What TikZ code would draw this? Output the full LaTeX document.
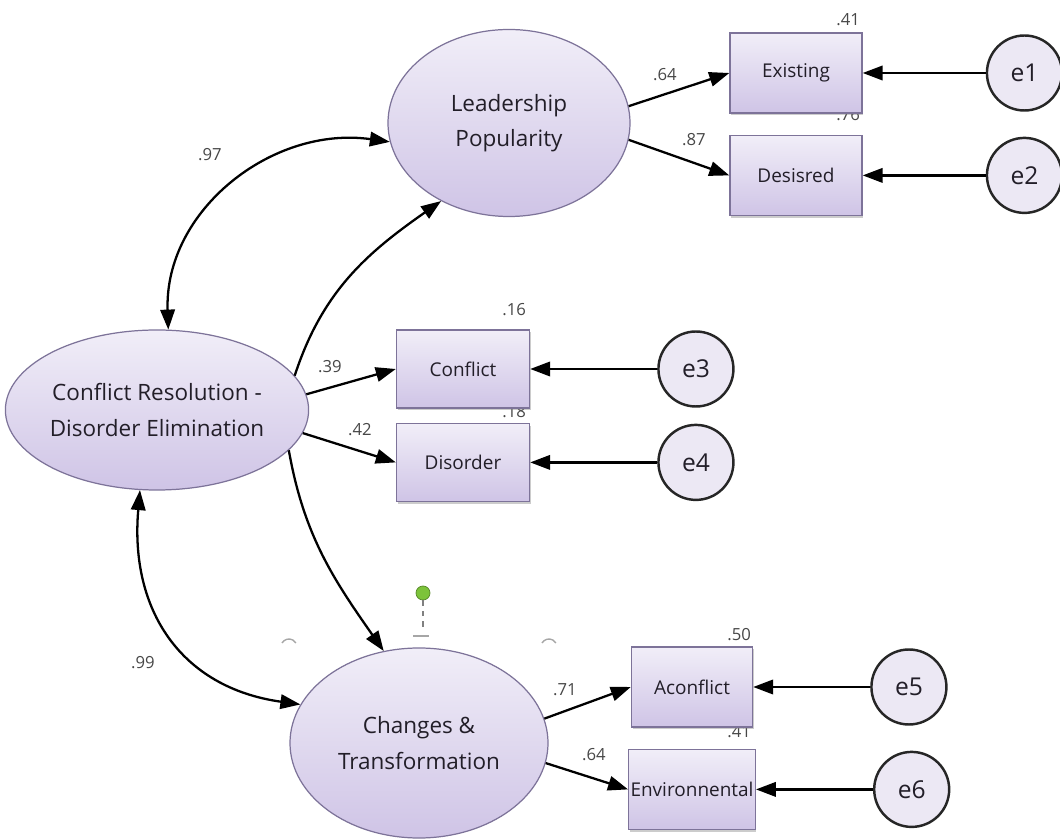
\documentclass[tikz,border=0pt]{standalone}
\usepackage{fontspec}
\setmainfont{Open Sans}
\usepackage{xcolor}
\usetikzlibrary{arrows.meta, positioning, shapes.geometric, shadows}
\definecolor{lavtop}{HTML}{F1EEF8}
\definecolor{lavbot}{HTML}{CFC4E6}
\definecolor{edgecol}{HTML}{7D7399}
\definecolor{txtcol}{HTML}{221E28}
\definecolor{errfill}{HTML}{ECE8F4}
\definecolor{coefcol}{HTML}{474747}
\definecolor{handlecol}{HTML}{7CC33A}

\begin{document}
\begin{tikzpicture}[
    x=0.2mm, y=-0.2mm,
    node distance=4.2mm and 24mm,
    latent/.style={ellipse, draw=edgecol, line width=0.7pt, top color=lavtop, bottom color=lavbot, inner sep=0pt, align=center, text=txtcol, font=\fontsize{12.8}{20}\selectfont},
    obs/.style={rectangle, draw=edgecol, line width=0.8pt, top color=lavtop, bottom color=lavbot, minimum width=26.4mm, minimum height=16mm, inner xsep=1pt, text=txtcol, font=\fontsize{10.8}{12}\selectfont, drop shadow={shadow xshift=0.2mm, shadow yshift=-0.5mm, opacity=0.4}},
    err/.style={circle, draw=black!85, line width=1.4pt, fill=errfill, minimum size=15mm, inner sep=0pt, text=txtcol, font=\fontsize{14}{16}\selectfont},
    coef/.style={text=coefcol, font=\fontsize{9.5}{11}\selectfont, inner sep=1pt},
    arrow/.style={-{Triangle[length=4mm, width=2.9mm]}, line width=1.3pt},
    covar/.style={{Triangle[length=4mm, width=2.9mm]}-{Triangle[length=4mm, width=2.9mm]}, line width=1.3pt}
]
    \useasboundingbox (0,0) rectangle (1060,840);

    % latent factors
    \node[latent, minimum width=48.4mm, minimum height=37.4mm] (lead) at (509,123) {Leadership\\Popularity};
    \node[latent, minimum width=57.4mm, minimum height=32mm] (cr) at (157,410) {Conflict Resolution -\\Disorder Elimination};
    \node[latent, minimum width=51.6mm, minimum height=38mm] (ct) at (419,743) {Changes \&\\Transformation};

    % r-squared labels that sit behind the boxes
    \node[coef, anchor=east] at (862,115) {.76};
    \node[coef, anchor=east] at (528,412) {.18};
    \node[coef, anchor=east] at (753,732) {.41};

    % indicators
    \node[obs] (exist) at (796,73) {Existing};
    \node[obs, below=of exist] (desir) {Desisred};
    \node[obs, minimum width=26.6mm, minimum height=15.6mm] (confl) at (463,369) {Conflict};
    \node[obs, minimum width=26.6mm, minimum height=15.6mm, below=2.8mm of confl] (disord) {Disorder};
    \node[obs, minimum width=24.2mm] (aconf) at (692,687) {Aconflict};
    \node[obs, minimum width=24.2mm, below=of aconf] (envir) {Environnental};

    % error terms
    \node[err, right=24.6mm of exist] (e1) {e1};
    \node[err, right=24.6mm of desir] (e2) {e2};
    \node[err, right=25.4mm of confl] (e3) {e3};
    \node[err, right=25.4mm of disord] (e4) {e4};
    \node[err, right=23.4mm of aconf] (e5) {e5};
    \node[err, right=23.4mm of envir] (e6) {e6};

    \node[coef, anchor=east] at (862,20) {.41};
    \node[coef, anchor=east] at (528,310) {.16};
    \node[coef, anchor=east] at (753,635) {.50};

    \draw[arrow] (lead.8) -- (exist.west);
    \draw[arrow] (lead.-8) -- (desir.west);
    \draw[arrow] (cr.6) -- (confl.west);
    \draw[arrow] (cr.-9) -- (disord.west);
    \draw[arrow] (ct.11) -- (aconf.west);
    \draw[arrow] (ct.-9) -- (envir.west);
    \draw[arrow] (cr.14) to[out=72, in=215] (lead.229);
    \draw[arrow] (cr.-17) to[out=-80, in=125] (ct.111);
    \draw[covar] (cr.82) to[out=92, in=172, looseness=1.05] (lead.189);
    \draw[covar] (cr.258) to[out=-95, in=172, looseness=1.15] (ct.162);

    \draw[arrow] (e1) -- (exist);
    \draw[arrow] (e2) -- (desir);
    \draw[arrow] (e3) -- (confl);
    \draw[arrow] (e4) -- (disord);
    \draw[arrow] (e5) -- (aconf);
    \draw[arrow] (e6) -- (envir);

    \node[coef] at (665,75) {.64};
    \node[coef] at (694,140) {.87};
    \node[coef] at (330,367) {.39};
    \node[coef] at (360,430) {.42};
    \node[coef] at (210,155) {.97};
    \node[coef] at (143,663) {.99};
    \node[coef] at (565,690) {.71};
    \node[coef] at (594,755) {.64};

    % selection handle
    \node[circle, fill=handlecol, draw=handlecol!70!black, minimum size=2.8mm, inner sep=0pt] (hdl) at (423,593) {};
    \coordinate (hdlend) at (423,630);
    \draw[gray, dashed, line width=0.8pt] (hdl) -- (hdlend);
    \draw[gray!70, line width=0.8pt] (282,643) arc[start angle=150, end angle=30, radius=1.6mm];
    \draw[gray!70, line width=0.8pt] (542,643) arc[start angle=150, end angle=30, radius=1.6mm];
    \draw[gray!70, line width=0.8pt] (413,636) -- (429,636);
\end{tikzpicture}
\end{document}
